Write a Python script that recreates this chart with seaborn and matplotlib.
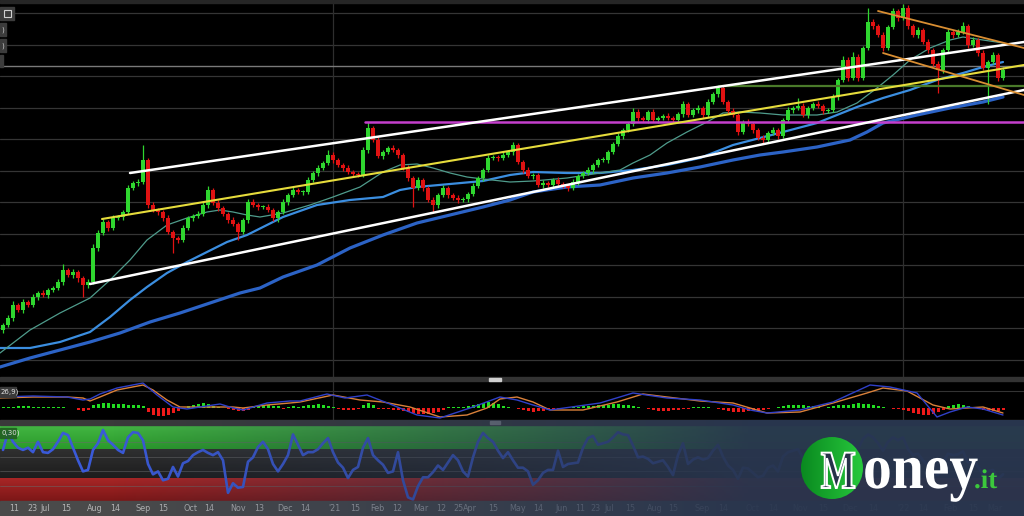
import numpy as np
import pandas as pd
import seaborn as sns
import matplotlib.pyplot as plt
from matplotlib import transforms
from matplotlib.colors import LinearSegmentedColormap, to_rgb
from matplotlib.patches import Rectangle, Circle, PathPatch
from matplotlib.textpath import TextPath
from matplotlib.font_manager import FontProperties

# ---- price data (one candle per step, open = previous close) ----
first_open = 70
closes = [75, 82, 95, 90, 98, 95, 103, 107, 105, 110,
          112, 118, 130, 125, 128, 122, 115, 118, 152, 167,
          178, 172, 182, 183, 188, 212, 217, 218, 240, 195,
          190, 188, 182, 168, 162, 160, 172, 182, 184, 186,
          195, 210, 197, 192, 186, 180, 176, 168, 180, 198,
          195, 193, 193, 190, 182, 188, 198, 205, 210, 208,
          208, 220, 227, 232, 237, 245, 240, 235, 232, 228,
          226, 225, 250, 272, 260, 244, 248, 252, 250, 245,
          232, 222, 212, 220, 212, 200, 195, 205, 212, 205,
          202, 200, 201, 206, 214, 222, 230, 242, 243, 242,
          245, 248, 255, 238, 230, 224, 225, 215, 217, 215,
          220, 216, 214, 212, 218, 224, 227, 230, 235, 240,
          240, 248, 256, 264, 270, 276, 288, 282, 280, 288,
          280, 282, 284, 282, 280, 286, 296, 285, 290, 292,
          285, 298, 306, 312, 298, 289, 285, 268, 278, 276,
          270, 262, 260, 267, 270, 264, 280, 290, 292, 294,
          285, 292, 296, 294, 289, 290, 303, 320, 340, 322,
          343, 322, 352, 378, 374, 365, 352, 373, 389, 382,
          392, 374, 365, 370, 358, 350, 336, 330, 350, 368,
          365, 368, 374, 355, 360, 347, 332, 338, 345, 322,
          330]
wick_hi = [2, 3, 4, 2, 3, 2, 3, 2, 3, 2,
           2, 3, 6, 2, 3, 2, 2, 3, 4, 3,
           3, 2, 3, 2, 2, 3, 2, 3, 15, 2,
           3, 2, 2, 3, 2, 2, 3, 2, 2, 3,
           3, 4, 2, 3, 2, 2, 3, 2, 2, 3,
           3, 2, 2, 3, 2, 2, 3, 2, 3, 2,
           2, 3, 2, 3, 2, 5, 3, 2, 2, 3,
           2, 2, 3, 6, 2, 3, 2, 2, 3, 2,
           2, 3, 2, 3, 2, 2, 3, 2, 3, 2,
           2, 3, 2, 2, 3, 2, 2, 3, 2, 2,
           3, 2, 3, 2, 2, 3, 2, 2, 3, 2,
           2, 3, 2, 2, 3, 2, 2, 3, 2, 2,
           3, 2, 2, 3, 2, 2, 4, 3, 2, 2,
           3, 2, 2, 3, 2, 2, 3, 2, 2, 3,
           2, 3, 2, 3, 2, 2, 3, 2, 2, 3,
           2, 2, 3, 2, 3, 2, 2, 3, 2, 8,
           3, 2, 2, 3, 2, 2, 3, 2, 4, 3,
           5, 3, 2, 14, 3, 2, 3, 2, 3, 2,
           4, 3, 2, 3, 2, 3, 2, 3, 2, 3,
           2, 3, 4, 2, 3, 2, 3, 2, 3, 2,
           3]
wick_lo = [3, 2, 3, 2, 3, 2, 2, 3, 2, 3,
           2, 2, 3, 2, 3, 4, 12, 3, 2, 3,
           2, 3, 2, 2, 3, 2, 2, 3, 2, 3,
           2, 3, 3, 2, 15, 3, 2, 2, 3, 2,
           2, 3, 2, 3, 2, 3, 2, 8, 2, 3,
           2, 3, 2, 2, 3, 4, 2, 3, 2, 2,
           3, 2, 2, 3, 2, 2, 3, 2, 3, 2,
           3, 2, 2, 3, 2, 2, 3, 2, 2, 3,
           2, 3, 19, 2, 3, 2, 7, 3, 2, 3,
           2, 3, 2, 3, 2, 2, 3, 2, 2, 3,
           2, 2, 3, 2, 3, 2, 3, 2, 3, 2,
           3, 2, 2, 3, 2, 3, 2, 2, 3, 2,
           2, 3, 2, 2, 3, 2, 2, 3, 2, 3,
           2, 3, 2, 2, 3, 2, 3, 2, 2, 3,
           3, 2, 2, 3, 2, 3, 2, 3, 2, 2,
           3, 2, 3, 2, 2, 3, 2, 2, 3, 2,
           2, 3, 2, 2, 3, 2, 2, 3, 2, 3,
           2, 3, 2, 2, 3, 2, 3, 2, 2, 3,
           2, 3, 2, 3, 2, 3, 2, 23, 3, 2,
           3, 2, 2, 3, 2, 3, 2, 36, 2, 3,
           2]

# ---- moving averages (read at sparse points) ----
ma_fast_x = [-0.6, 5.4, 11.4, 17.4, 21.4, 25.4, 28.8, 32.8, 36.8, 40.8,
             43.4, 46, 48.8, 51.4, 56, 61.4, 66, 71.4, 76, 79.4,
             82.8, 86, 89.4, 92.8, 96, 101.4, 106, 112.8, 119.4, 123.4,
             126, 129.4, 132.8, 136.8, 140.8, 144, 147.4, 151.4, 156, 162.8,
             166.8, 170.8, 174.8, 178, 181.4, 185.4, 189.4, 192, 196, 200]
ma_fast = [47, 70, 87, 102, 120, 140, 160, 175, 182, 188,
           190, 188, 185, 183, 187, 195, 203, 213, 228, 235,
           236, 232, 227, 223, 221, 218, 219, 222, 227, 230,
           237, 245, 257, 268, 278, 287, 288, 287, 285, 285,
           288, 297, 312, 325, 340, 352, 360, 363, 360, 357]
ma_mid_x = [-0.6, 5.4, 11.4, 17.4, 21.4, 25.4, 28.8, 32.8, 36.8, 40.8,
            44.8, 48.8, 56, 62.8, 69.4, 76, 79.4, 82.8, 89.4, 96,
            101.4, 106, 112.8, 119.4, 126, 132.8, 139.4, 146, 151.4, 156,
            162.8, 166.8, 170.8, 176, 181.4, 186.8, 192, 196, 200]
ma_mid = [52, 52, 58, 68, 83, 100, 113, 127, 138, 148,
          158, 165, 183, 195, 200, 203, 210, 213, 216, 219,
          225, 228, 227, 227, 230, 235, 242, 255, 262, 268,
          277, 285, 293, 302, 310, 320, 327, 333, 338]
ma_slow_x = [-0.6, 5.4, 11.4, 17.4, 23.4, 29.4, 35.4, 41.4, 47.4, 51.4,
             56, 62.8, 69.4, 76, 82.8, 89.4, 96, 101.4, 106, 112.8,
             119.4, 126, 132.8, 139.4, 146, 151.4, 156, 162.8, 169.4, 172.8,
             176, 182.8, 189.4, 196, 200]
ma_slow = [33, 42, 50, 58, 67, 78, 87, 97, 107, 112,
           123, 135, 152, 165, 177, 185, 193, 200, 208, 213,
           215, 222, 227, 233, 240, 245, 248, 253, 260, 268,
           277, 285, 292, 298, 303]

# ---- drawn trend lines (day, price) ----
white_up = ([25.4, 204.2], [227, 358])
white_lo = ([17.4, 204.2], [116, 310])
yellow_ln = ([19.8, 204.2], [181, 335])
purple_ln = ([72.4, 204.2], [278, 278])
olive_ln = ([143.4, 204.2], [314, 314])
orange_up = ([175, 204.2], [389, 352])
orange_lo = ([176, 204.2], [347, 305])
gray_level = 334

# ---- MACD (12,26,9) ----
macd_x = [-0.6, 6, 12.8, 16, 17.4, 19.4, 22.8, 28, 30.8, 34,
          36.8, 39.4, 43.4, 46, 48, 52.8, 57.4, 59.4, 64.8, 68.4,
          72.8, 77.4, 82.8, 87.4, 94, 99.4, 102.8, 106, 109.4, 119.4,
          126, 132.8, 139.4, 146, 149.4, 152.8, 159.4, 166, 173.4, 177.4,
          182.8, 186.8, 189.4, 192.8, 196, 200]
macd_vals = [11, 12, 11, 8, 9, 14, 20, 25, 13, 1,
             -1, 1, 4, 0, -2, 5, 7, 7, 14, 10,
             13, 4, -7, -10, 1, 11, 8, 3, -2, 5,
             15, 10, 8, 3, -2, -5, -2, 6, 23, 21,
             15, -9, -4, 1, -1, -7]
signal_x = [-0.6, 6, 12.8, 16, 17.4, 19.4, 22.8, 28, 30, 32.8,
            35.4, 39.4, 46, 48, 52.8, 57.4, 59.4, 66, 71.4, 76,
            81.4, 87.4, 92.8, 96.8, 99.4, 102.8, 106, 109.4, 116, 122.8,
            128, 132.8, 139.4, 146, 152.8, 159.4, 166, 172.8, 176, 180.8,
            186, 189.4, 196, 200]
signal_vals = [10, 11, 11, 10, 7, 11, 18, 23, 18, 8,
               1, 1, 1, 0, 3, 5, 6, 13, 8, 6,
               1, -9, -7, 0, 9, 11, 6, -2, -2, 6,
               14, 11, 7, 5, -5, -4, 5, 15, 20, 17,
               3, -1, 1, -5]
hist_vals = [1, 1, 1, 2, 2, 2, 1, 1, 1, 1,
             1, 1, 1, 0, 0, -2, -3, -2, 3, 4,
             5, 5, 4, 4, 4, 3, 3, 3, 2, -4,
             -7, -8, -8, -7, -5, -3, -1, 2, 3, 4,
             5, 4, 2, 1, 0, -1, -2, -3, -3, -2,
             2, 3, 3, 3, 2, 2, -1, 1, 2, 1,
             2, 3, 3, 4, 3, 2, 1, -1, -2, -2,
             -2, -1, 3, 5, 3, -1, -1, -1, -2, -2,
             -3, -4, -5, -6, -6, -6, -5, -4, -2, 1,
             1, 1, 1, 2, 3, 4, 5, 6, 5, 4,
             2, 1, 0, -1, -2, -3, -4, -3, -3, -2,
             -1, -1, 0, 0, 1, 1, 2, 2, 2, 3,
             3, 3, 4, 4, 3, 3, 2, 1, 0, -1,
             -2, -3, -3, -3, -2, -2, -1, -1, 1, 1,
             1, 1, 0, -1, -2, -3, -4, -4, -4, -3,
             -3, -2, -2, -1, 0, 1, 2, 3, 3, 3,
             3, 2, 2, 1, 0, 1, 2, 3, 3, 3,
             4, 5, 4, 4, 3, 2, 1, 0, -1, -1,
             -2, -3, -5, -6, -7, -7, -6, -4, -2, 2,
             3, 4, 3, 2, 1, 0, -2, -3, -3, -3,
             -2]

# ---- RSI (14) ----
rsi_vals = [69, 93, 80, 72, 69, 72, 66, 80, 66, 65,
            70, 80, 92, 89, 72, 55, 40, 42, 69, 78,
            96, 82, 76, 69, 65, 86, 93, 92, 82, 50,
            36, 40, 28, 30, 46, 33, 51, 54, 62, 66,
            69, 65, 62, 66, 55, 11, 24, 18, 19, 53,
            59, 73, 80, 70, 50, 40, 50, 62, 90, 76,
            62, 66, 66, 70, 78, 85, 66, 52, 45, 31,
            42, 46, 72, 85, 62, 55, 49, 38, 40, 66,
            28, 5, 2, 20, 32, 32, 39, 48, 42, 52,
            62, 55, 40, 33, 59, 80, 92, 85, 80, 68,
            58, 66, 55, 45, 45, 40, 22, 28, 38, 42,
            42, 68, 46, 50, 51, 52, 72, 85, 88, 76,
            78, 80, 86, 93, 90, 89, 75, 59, 60, 57,
            51, 53, 55, 46, 35, 62, 78, 50, 56, 59,
            56, 58, 68, 76, 60, 48, 42, 30, 45, 44,
            38, 32, 34, 45, 48, 40, 60, 66, 68, 70,
            58, 64, 66, 64, 58, 60, 70, 78, 84, 72,
            82, 70, 84, 90, 86, 78, 68, 80, 86, 82,
            86, 70, 62, 64, 55, 48, 38, 35, 52, 64,
            62, 63, 67, 52, 55, 46, 36, 40, 42, 30,
            36]

# ---- time axis labels ----
tick_pos = [2.2, 5.8, 8.4, 12.6, 18.4, 22.4, 28, 32, 37.4, 41.2,
            47, 51.2, 56.4, 60.4, 66.2, 70.4, 74.8, 78.8, 83.6, 87.6,
            91.2, 93.4, 98, 103, 107, 111.8, 115.4, 118.4, 121.2, 125.4,
            130.4, 134, 139.8, 144, 149.8, 154, 159.4, 164, 169.4, 174,
            180, 184, 189.4, 194, 198.4]
tick_labels = ['11', '23', 'Jul', '15', 'Aug', '14', 'Sep', '15', 'Oct', '14',
               'Nov', '13', 'Dec', '14', "'21", '15', 'Feb', '12', 'Mar', '12',
               '25', 'Apr', '15', 'May', '14', 'Jun', '11', '23', 'Jul', '15',
               'Aug', '15', 'Sep', '14', 'Oct', '14', 'Nov', '15', 'Dec', '14',
               "'22", '14', 'Feb', '15', 'Mar']
year_marks = [66, 180]

df = pd.DataFrame({'day': np.arange(len(closes)), 'close': closes})
df['open'] = [first_open] + closes[:-1]
df['high'] = df[['open', 'close']].max(axis=1) + np.array(wick_hi)
df['low'] = df[['open', 'close']].min(axis=1) - np.array(wick_lo)
df['rsi'] = rsi_vals
df['hist'] = hist_vals

sns.set_theme(style="dark")
W, H = 1024, 516
fig = plt.figure(figsize=(W / 100, H / 100), dpi=100, facecolor='black')
XL = (-0.6, 204.2)


def px_axes(top, bottom):
    return fig.add_axes([0, 1 - bottom / H, 1, (bottom - top) / H])


def clean(a):
    a.set_facecolor('black')
    for s in a.spines.values():
        s.set_visible(False)
    a.tick_params(length=0, labelleft=False, labelbottom=False)
    a.set_xlabel('')
    a.set_ylabel('')
    a.set_xlim(*XL)


GREEN, RED = '#2fd62f', '#e01212'

# ---------------- main price panel ----------------
ax = px_axes(3, 377)
clean(ax)
ax.set_ylim(23, 397)
ax.set_yticks(np.arange(40, 390, 31.55))
ax.grid(axis='y', color='#353535', lw=0.9)
ax.grid(axis='x', visible=False)
for d in year_marks:
    ax.axvline(d, color='#2e2e2e', lw=0.9, zorder=1)
ax.axhline(gray_level, color='#7a7a7a', lw=1.0, zorder=1)

sns.lineplot(x=ma_slow_x, y=ma_slow, ax=ax, color='#2c63c6', lw=2.3, zorder=2)
sns.lineplot(x=ma_mid_x, y=ma_mid, ax=ax, color='#3b8ee0', lw=1.6, zorder=2)
sns.lineplot(x=ma_fast_x, y=ma_fast, ax=ax, color='#4f9c8c', lw=0.9, zorder=2)

col = np.where(df['close'] >= df['open'], GREEN, RED)
ax.vlines(df['day'], df['low'], df['high'], colors=col, lw=0.9, zorder=3)
body = (df['close'] - df['open']).abs().clip(lower=1.2)
ax.bar(df['day'], body, bottom=df[['open', 'close']].min(axis=1), width=0.62,
       color=col, lw=0, zorder=3)

ax.plot(*purple_ln, color='#c43fcc', lw=1.8, zorder=4)
ax.plot(*olive_ln, color='#4a7a2a', lw=1.6, zorder=4)
ax.plot(*white_up, color='white', lw=1.8, zorder=4)
ax.plot(*white_lo, color='white', lw=1.8, zorder=4)
ax.plot(*yellow_ln, color='#e6dc3c', lw=1.5, zorder=4)
ax.plot(*orange_up, color='#d98e32', lw=1.3, zorder=4)
ax.plot(*orange_lo, color='#d98e32', lw=1.3, zorder=4)
ax.set_xlim(*XL)
ax.set_ylim(23, 397)

# ---------------- MACD panel ----------------
axm = px_axes(381, 420)
clean(axm)
axm.set_ylim(-12, 27)
axm.set_yticks([17])
axm.grid(axis='y', color='#333333', lw=0.8)
axm.grid(axis='x', visible=False)
for d in year_marks:
    axm.axvline(d, color='#2e2e2e', lw=0.9, zorder=1)
hcol = np.where(df['hist'] >= 0, '#22dd22', '#ee1a1a')
axm.bar(df['day'], df['hist'], width=0.6, color=hcol, lw=0, zorder=2)
sns.lineplot(x=signal_x, y=signal_vals, ax=axm, color='#d9803a', lw=1.0, zorder=3)
sns.lineplot(x=macd_x, y=macd_vals, ax=axm, color='#3040c8', lw=1.0, zorder=3)
axm.set_xlim(*XL)
axm.set_ylim(-12, 27)

# ---------------- RSI panel ----------------
axr = px_axes(425, 501)
clean(axr)


def vgrad(a, y0, y1, c_bot, c_top):
    cm = LinearSegmentedColormap.from_list('band', [c_bot, c_top])
    a.imshow(np.linspace(0, 1, 64).reshape(-1, 1), extent=[XL[0], XL[1], y0, y1],
             origin='lower', aspect='auto', cmap=cm, zorder=0)


vgrad(axr, 70, 103, '#2a9a2a', '#45b845')
vgrad(axr, 30, 70, '#1c1c1c', '#303030')
vgrad(axr, 0, 30, '#7c1717', '#a82626')
for lv in [20, 40, 60, 80]:
    axr.axhline(lv, color='#6a6a6a', lw=0.6, alpha=0.6, zorder=1)
sns.lineplot(data=df, x='day', y='rsi', ax=axr, color='#3a5ad8', lw=1.9, zorder=3)
axr.grid(False)
axr.set_xlim(*XL)
axr.set_ylim(0, 102.7)
axr.set_xlabel('')
axr.set_ylabel('')

# ---------------- chart chrome (pixel coords) ----------------
deco = fig.add_axes([0, 0, 1, 1])
deco.set_xlim(0, W)
deco.set_ylim(H, 0)
deco.axis('off')
deco.patch.set_alpha(0)
deco.set_zorder(5)

deco.add_patch(Rectangle((0, 0), W, 3, color='#262626'))
deco.add_patch(Rectangle((0, 7), 14, 13, color='#3c3c3c'))
deco.add_patch(Rectangle((4, 10), 7, 7, fill=False, ec='#d0d0d0', lw=0.8))
for yb in (23, 39):
    deco.add_patch(Rectangle((0, yb), 6, 13, color='#3c3c3c'))
    deco.text(2.5, yb + 6.5, ')', color='#cccccc', fontsize=5, ha='center', va='center')
deco.add_patch(Rectangle((0, 55), 3, 12, color='#3c3c3c'))

deco.add_patch(Rectangle((0, 377), W, 4, color='#333333'))
deco.add_patch(Rectangle((489, 377.5), 12, 3, color='#cfcfcf'))
deco.add_patch(Rectangle((0, 420), W, 5, color='#3a3a3a'))
deco.add_patch(Rectangle((490, 421), 10, 3, color='#9a9a9a'))

deco.add_patch(Rectangle((0, 387), 16, 10, color='#3a3a3a'))
deco.text(1, 392, '26,9)', color='#e0e0e0', fontsize=5, ha='left', va='center')
deco.add_patch(Rectangle((0, 428), 16, 10, color='#226022', alpha=0.9))
deco.text(1, 433, '0,30)', color='#e0e0e0', fontsize=5, ha='left', va='center')

deco.add_patch(Rectangle((0, 501), W, 15, color='#4a4a4a'))
blend = transforms.blended_transform_factory(axr.transData, deco.transData)
for p, lab in zip(tick_pos, tick_labels):
    deco.text(p, 508.5, lab, transform=blend, color='#b4b4b4', fontsize=5.8,
              ha='center', va='center')

# ---------------- navy fade overlay ----------------
ov = fig.add_axes([0, 0, 1, 96 / H])
ov.axis('off')
ov.set_zorder(10)
xs = np.linspace(0, W, 512)
rgba = np.zeros((1, xs.size, 4))
rgba[..., :3] = to_rgb('#28354e')
rgba[..., 3] = np.clip((xs - 110) / 640, 0, 1) * 0.96
ov.imshow(rgba, extent=[0, W, 0, 1], aspect='auto')

# ---------------- Money.it logo ----------------
lg = fig.add_axes([0, 0, 1, 1])
lg.axis('off')
lg.patch.set_alpha(0)
lg.set_zorder(20)
circ = Circle((832, 468), 31, fc='none', ec='none')
lg.add_patch(circ)
gcm = LinearSegmentedColormap.from_list('logo', ['#0a8a20', '#27c83c'])
img = lg.imshow(np.linspace(0, 1, 64).reshape(1, -1), extent=[801, 863, 499, 437],
                cmap=gcm, aspect='auto')
img.set_clip_path(circ)

serif = FontProperties(family='Liberation Serif', weight='bold')


def logo_text(a, s, x0, base, em, sx, **kw):
    tp = TextPath((0, 0), s, size=1, prop=serif)
    tr = transforms.Affine2D().scale(em * sx, -em).translate(x0, base)
    a.add_patch(PathPatch(tr.transform_path(tp), **kw))


logo_text(lg, 'M', 821, 488, 54, 0.68, fc='#263249', ec='white', lw=1.4)
logo_text(lg, 'oney', 863, 488, 64, 0.9, fc='white', ec='none')
logo_text(lg, '.it', 974, 488, 27, 1.0, fc='#3cc83c', ec='none')
lg.set_xlim(0, W)
lg.set_ylim(H, 0)

fig.savefig('out.png', dpi=100, facecolor='black')
